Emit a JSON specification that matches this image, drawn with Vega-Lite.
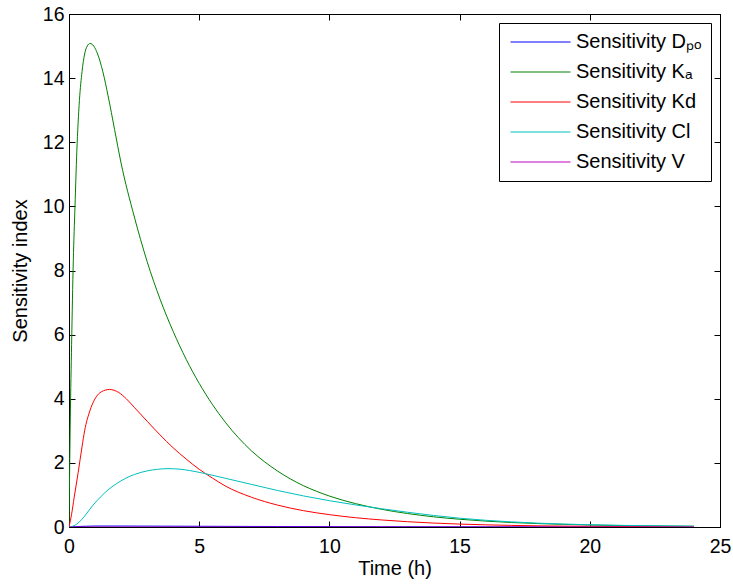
{
  "$schema": "https://vega.github.io/schema/vega-lite/v6.json",
  "width": 651,
  "height": 513,
  "autosize": "none",
  "padding": {"left": 69, "top": 14, "right": 13, "bottom": 58},
  "background": "white",
  "datasets": {
    "curves": [
      {"s": "Sensitivity Dₚₒ", "t": 0, "v": 0},
      {"s": "Sensitivity Dₚₒ", "t": 0.5, "v": 0.02},
      {"s": "Sensitivity Dₚₒ", "t": 1, "v": 0.03},
      {"s": "Sensitivity Dₚₒ", "t": 2, "v": 0.03},
      {"s": "Sensitivity Dₚₒ", "t": 4, "v": 0.025},
      {"s": "Sensitivity Dₚₒ", "t": 8, "v": 0.015},
      {"s": "Sensitivity Dₚₒ", "t": 12, "v": 0.008},
      {"s": "Sensitivity Dₚₒ", "t": 16, "v": 0.004},
      {"s": "Sensitivity Dₚₒ", "t": 20, "v": 0.002},
      {"s": "Sensitivity Dₚₒ", "t": 24, "v": 0.001},

      {"s": "Sensitivity Kₐ", "t": 0, "v": 0},
      {"s": "Sensitivity Kₐ", "t": 0.05, "v": 3.4},
      {"s": "Sensitivity Kₐ", "t": 0.1, "v": 5.7},
      {"s": "Sensitivity Kₐ", "t": 0.165, "v": 8.3},
      {"s": "Sensitivity Kₐ", "t": 0.23, "v": 10.0},
      {"s": "Sensitivity Kₐ", "t": 0.3, "v": 11.7},
      {"s": "Sensitivity Kₐ", "t": 0.4, "v": 13.3},
      {"s": "Sensitivity Kₐ", "t": 0.5, "v": 14.2},
      {"s": "Sensitivity Kₐ", "t": 0.6, "v": 14.75},
      {"s": "Sensitivity Kₐ", "t": 0.7, "v": 15.0},
      {"s": "Sensitivity Kₐ", "t": 0.81, "v": 15.08},
      {"s": "Sensitivity Kₐ", "t": 0.95, "v": 15.0},
      {"s": "Sensitivity Kₐ", "t": 1.1, "v": 14.75},
      {"s": "Sensitivity Kₐ", "t": 1.3, "v": 14.2},
      {"s": "Sensitivity Kₐ", "t": 1.5, "v": 13.45},
      {"s": "Sensitivity Kₐ", "t": 1.75, "v": 12.4},
      {"s": "Sensitivity Kₐ", "t": 2.0, "v": 11.35},
      {"s": "Sensitivity Kₐ", "t": 2.5, "v": 9.7},
      {"s": "Sensitivity Kₐ", "t": 3.0, "v": 8.28},
      {"s": "Sensitivity Kₐ", "t": 3.5, "v": 7.1},
      {"s": "Sensitivity Kₐ", "t": 4.0, "v": 6.1},
      {"s": "Sensitivity Kₐ", "t": 4.5, "v": 5.23},
      {"s": "Sensitivity Kₐ", "t": 5.0, "v": 4.48},
      {"s": "Sensitivity Kₐ", "t": 5.5, "v": 3.83},
      {"s": "Sensitivity Kₐ", "t": 6.0, "v": 3.27},
      {"s": "Sensitivity Kₐ", "t": 6.5, "v": 2.79},
      {"s": "Sensitivity Kₐ", "t": 7.0, "v": 2.38},
      {"s": "Sensitivity Kₐ", "t": 7.5, "v": 2.04},
      {"s": "Sensitivity Kₐ", "t": 8.0, "v": 1.75},
      {"s": "Sensitivity Kₐ", "t": 8.5, "v": 1.5},
      {"s": "Sensitivity Kₐ", "t": 9.0, "v": 1.29},
      {"s": "Sensitivity Kₐ", "t": 9.5, "v": 1.115},
      {"s": "Sensitivity Kₐ", "t": 10, "v": 0.965},
      {"s": "Sensitivity Kₐ", "t": 11, "v": 0.73},
      {"s": "Sensitivity Kₐ", "t": 12, "v": 0.553},
      {"s": "Sensitivity Kₐ", "t": 13, "v": 0.42},
      {"s": "Sensitivity Kₐ", "t": 14, "v": 0.318},
      {"s": "Sensitivity Kₐ", "t": 15, "v": 0.242},
      {"s": "Sensitivity Kₐ", "t": 16, "v": 0.184},
      {"s": "Sensitivity Kₐ", "t": 17, "v": 0.14},
      {"s": "Sensitivity Kₐ", "t": 18, "v": 0.107},
      {"s": "Sensitivity Kₐ", "t": 19, "v": 0.082},
      {"s": "Sensitivity Kₐ", "t": 20, "v": 0.063},
      {"s": "Sensitivity Kₐ", "t": 21, "v": 0.048},
      {"s": "Sensitivity Kₐ", "t": 22, "v": 0.037},
      {"s": "Sensitivity Kₐ", "t": 23, "v": 0.028},
      {"s": "Sensitivity Kₐ", "t": 24, "v": 0.022},

      {"s": "Sensitivity Kd", "t": 0, "v": 0},
      {"s": "Sensitivity Kd", "t": 0.1, "v": 0.4},
      {"s": "Sensitivity Kd", "t": 0.2, "v": 0.93},
      {"s": "Sensitivity Kd", "t": 0.35, "v": 1.69},
      {"s": "Sensitivity Kd", "t": 0.5, "v": 2.5},
      {"s": "Sensitivity Kd", "t": 0.6, "v": 3.0},
      {"s": "Sensitivity Kd", "t": 0.8, "v": 3.62},
      {"s": "Sensitivity Kd", "t": 1.0, "v": 4.0},
      {"s": "Sensitivity Kd", "t": 1.25, "v": 4.22},
      {"s": "Sensitivity Kd", "t": 1.56, "v": 4.29},
      {"s": "Sensitivity Kd", "t": 1.9, "v": 4.2},
      {"s": "Sensitivity Kd", "t": 2.2, "v": 4.0},
      {"s": "Sensitivity Kd", "t": 2.52, "v": 3.72},
      {"s": "Sensitivity Kd", "t": 3.0, "v": 3.3},
      {"s": "Sensitivity Kd", "t": 3.5, "v": 2.87},
      {"s": "Sensitivity Kd", "t": 4.0, "v": 2.47},
      {"s": "Sensitivity Kd", "t": 4.5, "v": 2.12},
      {"s": "Sensitivity Kd", "t": 5.0, "v": 1.8},
      {"s": "Sensitivity Kd", "t": 5.5, "v": 1.53},
      {"s": "Sensitivity Kd", "t": 6.0, "v": 1.28},
      {"s": "Sensitivity Kd", "t": 7.0, "v": 0.93},
      {"s": "Sensitivity Kd", "t": 8.0, "v": 0.685},
      {"s": "Sensitivity Kd", "t": 9.0, "v": 0.51},
      {"s": "Sensitivity Kd", "t": 10, "v": 0.385},
      {"s": "Sensitivity Kd", "t": 11, "v": 0.29},
      {"s": "Sensitivity Kd", "t": 12, "v": 0.22},
      {"s": "Sensitivity Kd", "t": 13, "v": 0.165},
      {"s": "Sensitivity Kd", "t": 14, "v": 0.123},
      {"s": "Sensitivity Kd", "t": 15, "v": 0.091},
      {"s": "Sensitivity Kd", "t": 16, "v": 0.068},
      {"s": "Sensitivity Kd", "t": 17, "v": 0.05},
      {"s": "Sensitivity Kd", "t": 18, "v": 0.037},
      {"s": "Sensitivity Kd", "t": 19, "v": 0.028},
      {"s": "Sensitivity Kd", "t": 20, "v": 0.021},
      {"s": "Sensitivity Kd", "t": 22, "v": 0.012},
      {"s": "Sensitivity Kd", "t": 24, "v": 0.007},

      {"s": "Sensitivity Cl", "t": 0, "v": 0},
      {"s": "Sensitivity Cl", "t": 0.2, "v": 0.04},
      {"s": "Sensitivity Cl", "t": 0.4, "v": 0.16},
      {"s": "Sensitivity Cl", "t": 0.6, "v": 0.34},
      {"s": "Sensitivity Cl", "t": 0.9, "v": 0.66},
      {"s": "Sensitivity Cl", "t": 1.24, "v": 0.96},
      {"s": "Sensitivity Cl", "t": 1.5, "v": 1.16},
      {"s": "Sensitivity Cl", "t": 1.88, "v": 1.38},
      {"s": "Sensitivity Cl", "t": 2.2, "v": 1.53},
      {"s": "Sensitivity Cl", "t": 2.52, "v": 1.64},
      {"s": "Sensitivity Cl", "t": 3.0, "v": 1.75},
      {"s": "Sensitivity Cl", "t": 3.4, "v": 1.8},
      {"s": "Sensitivity Cl", "t": 3.8, "v": 1.82},
      {"s": "Sensitivity Cl", "t": 4.3, "v": 1.8},
      {"s": "Sensitivity Cl", "t": 4.64, "v": 1.76},
      {"s": "Sensitivity Cl", "t": 5.2, "v": 1.67},
      {"s": "Sensitivity Cl", "t": 6.0, "v": 1.52},
      {"s": "Sensitivity Cl", "t": 7.0, "v": 1.33},
      {"s": "Sensitivity Cl", "t": 8.0, "v": 1.14},
      {"s": "Sensitivity Cl", "t": 9.0, "v": 0.97},
      {"s": "Sensitivity Cl", "t": 10, "v": 0.82},
      {"s": "Sensitivity Cl", "t": 11, "v": 0.69},
      {"s": "Sensitivity Cl", "t": 12, "v": 0.57},
      {"s": "Sensitivity Cl", "t": 13, "v": 0.46},
      {"s": "Sensitivity Cl", "t": 14, "v": 0.36},
      {"s": "Sensitivity Cl", "t": 15, "v": 0.275},
      {"s": "Sensitivity Cl", "t": 16, "v": 0.21},
      {"s": "Sensitivity Cl", "t": 17, "v": 0.16},
      {"s": "Sensitivity Cl", "t": 18, "v": 0.12},
      {"s": "Sensitivity Cl", "t": 19, "v": 0.092},
      {"s": "Sensitivity Cl", "t": 20, "v": 0.07},
      {"s": "Sensitivity Cl", "t": 21, "v": 0.054},
      {"s": "Sensitivity Cl", "t": 22, "v": 0.042},
      {"s": "Sensitivity Cl", "t": 23, "v": 0.033},
      {"s": "Sensitivity Cl", "t": 24, "v": 0.026},

      {"s": "Sensitivity V", "t": 0, "v": 0},
      {"s": "Sensitivity V", "t": 4, "v": 0},
      {"s": "Sensitivity V", "t": 8, "v": 0},
      {"s": "Sensitivity V", "t": 12, "v": 0},
      {"s": "Sensitivity V", "t": 16, "v": 0},
      {"s": "Sensitivity V", "t": 20, "v": 0},
      {"s": "Sensitivity V", "t": 24, "v": 0}
    ]
  },
  "data": {"name": "curves"},
  "layer": [
    {
      "mark": {"type": "line", "strokeWidth": 1, "interpolate": "monotone", "clip": true},
      "encoding": {
        "x": {
          "field": "t", "type": "quantitative",
          "scale": {"domain": [0, 25], "nice": false, "zero": false},
          "axis": {"title": "Time (h)", "values": [0, 5, 10, 15, 20, 25], "orient": "bottom", "titlePadding": 3}
        },
        "y": {
          "field": "v", "type": "quantitative",
          "scale": {"domain": [0, 16], "nice": false, "zero": false},
          "axis": {"title": "Sensitivity index", "values": [0, 2, 4, 6, 8, 10, 12, 14, 16], "orient": "left", "titlePadding": 12, "labelPadding": 11}
        },
        "color": {
          "field": "s", "type": "nominal",
          "scale": {
            "domain": ["Sensitivity Dₚₒ", "Sensitivity Kₐ", "Sensitivity Kd", "Sensitivity Cl", "Sensitivity V"],
            "range": ["#0000FF", "#008000", "#FF0000", "#00BFBF", "#BF00BF"]
          },
          "legend": {"title": null}
        },
        "order": {"field": "t", "type": "quantitative"}
      }
    },
    {
      "mark": {"type": "point", "opacity": 0},
      "encoding": {
        "x": {
          "field": "t", "type": "quantitative",
          "axis": {"orient": "top", "labels": false, "title": null, "values": [0, 5, 10, 15, 20, 25]}
        },
        "y": {
          "field": "v", "type": "quantitative",
          "axis": {"orient": "right", "labels": false, "title": null, "values": [0, 2, 4, 6, 8, 10, 12, 14, 16]}
        }
      }
    }
  ],
  "resolve": {"axis": {"x": "independent", "y": "independent"}},
  "config": {
    "font": "Liberation Sans",
    "view": {"stroke": "black", "strokeWidth": 1},
    "axis": {
      "grid": false,
      "labelFont": "Liberation Sans",
      "labelFontSize": 19.5,
      "labelColor": "black",
      "labelFlush": false,
      "labelPadding": 16,
      "titleFont": "Liberation Sans",
      "titleFontSize": 20,
      "titleFontWeight": "normal",
      "titleColor": "black",
      "domainColor": "black",
      "domainWidth": 1,
      "tickColor": "black",
      "tickWidth": 1,
      "tickSize": -6
    },
    "legend": {
      "orient": "top-right",
      "offset": 9,
      "strokeColor": "black",
      "fillColor": "white",
      "padding": 9,
      "labelFont": "Liberation Sans",
      "labelFontSize": 20,
      "labelColor": "black",
      "labelLimit": 400,
      "symbolType": "M-1,0H7",
      "symbolSize": 225,
      "symbolStrokeWidth": 1,
      "labelOffset": 48,
      "rowPadding": 10
    }
  }
}
